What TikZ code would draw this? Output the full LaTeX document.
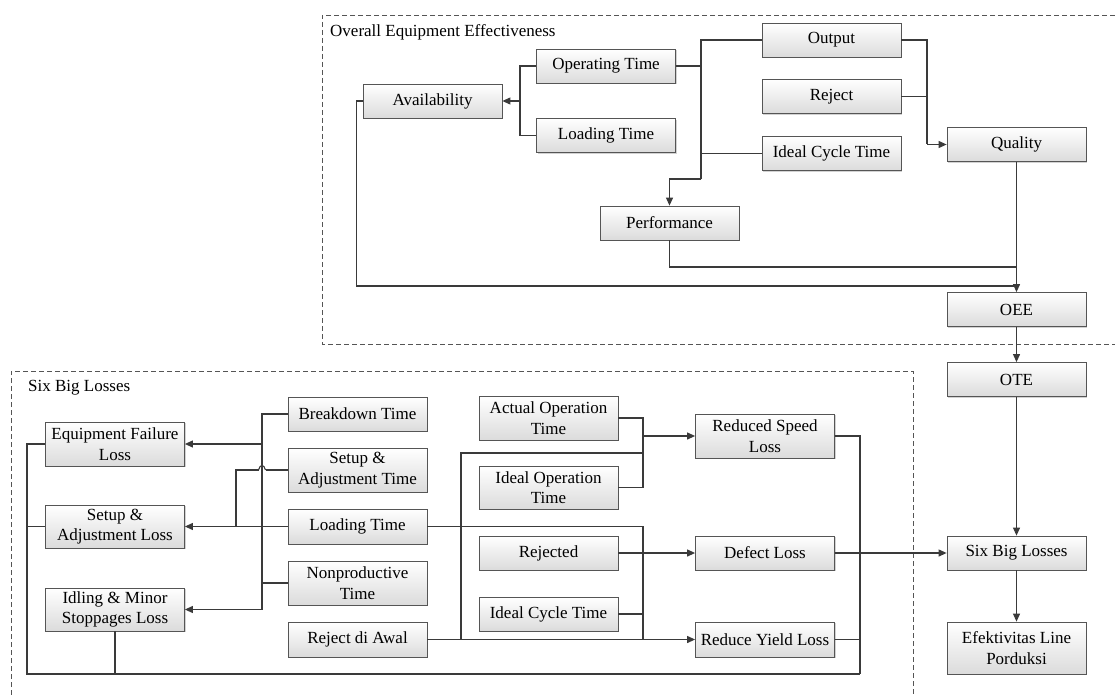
\documentclass[tikz,border=0pt]{standalone}
\usepackage{fontspec}
\setmainfont{Liberation Serif}
\usetikzlibrary{arrows.meta,shadows}
\definecolor{ln}{HTML}{3A3A3A}
\definecolor{bd}{HTML}{555555}
\begin{document}
\begin{tikzpicture}[x=1pt,y=-1pt,
  box/.style={draw=bd, line width=0.8pt, top color=white, bottom color=black!14,
    minimum width=139pt, minimum height=34pt, inner sep=1pt, align=center,
    font=\fontsize{17}{20.5}\selectfont,
    drop shadow={shadow xshift=1.3pt, shadow yshift=-1.3pt, fill=black!35}},
  conn/.style={draw=ln, line width=1.1pt},
  arr/.style={conn, -{Triangle[length=8pt,width=7pt]}},
  grp/.style={draw=bd, line width=0.9pt, dash pattern=on 5pt off 3pt},
  lbl/.style={anchor=west, inner sep=0pt, font=\fontsize{17}{20}\selectfont}]
\useasboundingbox[fill=white] (0,0) rectangle (1115,695);

% group frames
\draw[grp] (1115,15) -- (322,15) -- (322,344) -- (1115,344);
\draw[grp] (11,695) -- (11,371) -- (913,371) -- (913,695);
\node[lbl] (lblOEE) at (330,32) {Overall Equipment Effectiveness};
\node[lbl] (lblSBL) at (28,388) {Six Big Losses};

% top nodes
\node[box] (avail) at (432.5,101) {Availability};
\node[box] (optime) at (606,66) {Operating Time};
\node[box] (loadtop) at (606,135.5) {Loading Time};
\node[box] (perf) at (669.5,223) {Performance};
\node[box] (output) at (831.5,40) {Output};
\node[box] (reject) at (831.5,96.5) {Reject};
\node[box] (ictop) at (831.5,153.5) {Ideal Cycle Time};
\node[box] (quality) at (1016.5,144.5) {Quality};
\node[box] (oee) at (1016.5,309.5) {OEE};

% right column
\node[box] (ote) at (1016.5,379.5) {OTE};
\node[box] (sbl) at (1016.5,553) {Six Big Losses};
\node[box, minimum height=52pt] (eflp) at (1016.5,648) {Efektivitas Line\\Porduksi};

% bottom nodes
\node[box, minimum height=44pt] (efl) at (115,444) {Equipment Failure\\Loss};
\node[box, minimum height=43pt] (sal) at (115,526.5) {Setup \&\\Adjustment Loss};
\node[box, minimum height=43pt] (imsl) at (115,609.5) {Idling \& Minor\\Stoppages Loss};
\node[box] (bdt) at (357.5,414) {Breakdown Time};
\node[box, minimum height=44pt] (sat) at (357.5,470) {Setup \&\\Adjustment Time};
\node[box, minimum height=35pt] (loadbot) at (357.5,526.5) {Loading Time};
\node[box, minimum height=44pt] (npt) at (357.5,583) {Nonproductive\\Time};
\node[box, minimum height=35pt] (rda) at (357.5,639.5) {Reject di Awal};
\node[box, minimum height=44pt] (aot) at (548.5,418) {Actual Operation\\Time};
\node[box, minimum height=43pt] (iot) at (548.5,487.5) {Ideal Operation\\Time};
\node[box] (rej) at (548.5,553) {Rejected};
\node[box] (icbot) at (548.5,614) {Ideal Cycle Time};
\node[box, minimum height=44pt] (rsl) at (765,436) {Reduced Speed\\Loss};
\node[box] (dl) at (765,553) {Defect Loss};
\node[box, minimum height=35pt] (ryl) at (765,639.5) {Reduce Yield Loss};

% junction coordinates
\coordinate (j1) at (520,101);
\coordinate (j2) at (701,179);
\coordinate (j3) at (927,144.5);
\coordinate (j4) at (1016.5,267);
\coordinate (j5) at (1016.5,286);
\coordinate (b1) at (262,444);
\coordinate (b2) at (262,609.5);
\coordinate (hopa) at (265.5,470);
\coordinate (hopb) at (258.5,470);
\coordinate (b3) at (236,526.5);
\coordinate (c1) at (643,526.5);
\coordinate (c2) at (643,639.5);
\coordinate (c3) at (643,436);
\coordinate (c4) at (643,453);
\coordinate (c5) at (461,639.5);
\coordinate (d2) at (860,674);
\coordinate (d3) at (27,674);

% top connectors
\draw[conn] (optime.west) -| (j1) |- (loadtop.west);
\draw[arr] (j1) -- (avail.east);
\draw[conn] (output.west) -| (j2);
\draw[conn] (optime.east) -- (optime.east -| j2);
\draw[conn] (ictop.west) -- (ictop.west -| j2);
\draw[arr] (j2) -| (perf.north);
\draw[conn] (output.east) -| (j3);
\draw[conn] (reject.east) -- (reject.east -| j3);
\draw[arr] (j3) -- (quality.west);
\draw[arr] (quality.south) -- (oee.north);
\draw[conn, line width=1.4pt] (perf.south) |- (j4);
\draw[conn] (avail.west) -- ++(-6,0) |- (j5);
\draw[arr] (oee.south) -- (ote.north);
\draw[arr] (ote.south) -- (sbl.north);
\draw[arr] (sbl.south) -- (eflp.north);

% bottom connectors
\draw[conn] (bdt.west) -| (b2);
\draw[arr] (b1) -- (efl.east);
\draw[arr] (b2) -- (imsl.east);
\draw[conn] (npt.west) -- (npt.west -| b1);
\draw[arr] (loadbot.west) -- (sal.east);
\draw[conn] (sat.west) -- (hopa);
\draw[conn] (hopa) .. controls (264,464) and (260,464) .. (hopb);
\draw[conn] (hopb) -- (sat.west -| b3) -- (b3);
\draw[conn] (loadbot.east) -- (c1) -- (c2);
\draw[arr] (rda.east) -- (ryl.west);
\draw[conn] (icbot.east) -- (icbot.east -| c1);
\draw[arr] (rej.east) -- (dl.west);
\draw[conn] (aot.east) -| (c3);
\draw[conn] (iot.east) -| (c3);
\draw[arr] (c3) -- (rsl.west);
\draw[conn] (c4) -| (c5);
\draw[conn] (rsl.east) -| (d2);
\draw[conn] (ryl.east) -- (ryl.east -| d2);
\draw[arr] (dl.east) -- (sbl.west);
\draw[conn] (efl.west) -| (d3) -- (d2);
\draw[conn] (sal.west) -- (sal.west -| d3);
\draw[conn] (imsl.south) -- (imsl.south |- d3);
\end{tikzpicture}
\end{document}
